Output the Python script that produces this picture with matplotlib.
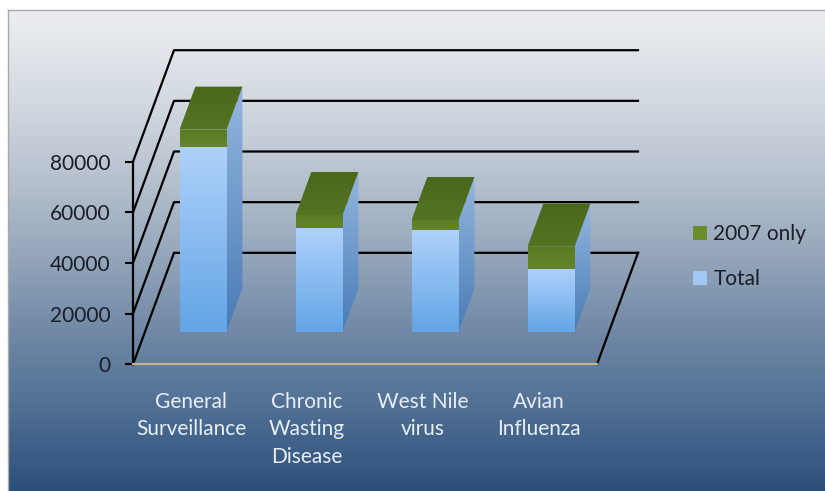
import numpy as np
import matplotlib

matplotlib.use("Agg")
import matplotlib.pyplot as plt
from matplotlib.patches import Polygon, Patch
from matplotlib.colors import LinearSegmentedColormap

plt.rcParams["font.family"] = ["Lato", "DejaVu Sans"]

# data
categories = ["General\nSurveillance", "Chronic\nWasting\nDisease", "West Nile\nvirus", "Avian\nInfluenza"]
total = [73000, 41000, 40000, 24500]
only_2007 = [6700, 5000, 4000, 9000]
y_ticks = [0, 20000, 40000, 60000, 80000]
series_labels = ["2007 only", "Total"]

W, H = 825, 491
fig = plt.figure(figsize=(W / 100, H / 100), dpi=100)

# background: white page with a grey-to-navy gradient panel
bg = fig.add_axes([0, 0, 1, 1])
bg.set_xlim(0, W)
bg.set_ylim(H, 0)
bg.axis("off")
bg_cmap = LinearSegmentedColormap.from_list(
    "bg", ["#eceef1", "#d6dce3", "#bac4d0", "#97a8bc", "#7189a6", "#4f6f93", "#2c4f7a"]
)
bg.imshow(np.linspace(0, 1, 256).reshape(-1, 1), cmap=bg_cmap, extent=(8, W, H, 10), aspect="auto")
bg.plot([8, W], [10, 10], color="#a9a9a9", lw=1)
bg.plot([8, 8], [10, H], color="#a9a9a9", lw=1)
bg.set_xlim(0, W)
bg.set_ylim(H, 0)

# main axes spans the figure, front plane of the 3d box mapped by limits
px_per_cat = 116.0
x0_px, y0_px = 133.0, 364.3
val_per_px = 80000 / 202.6
ax = fig.add_axes([0, 0, 1, 1])
ax.patch.set_alpha(0)
xlim = (-0.5 - x0_px / px_per_cat, -0.5 + (W - x0_px) / px_per_cat)
ylim = (-(H - y0_px) * val_per_px, y0_px * val_per_px)
ax.set_xlim(*xlim)
ax.set_ylim(*ylim)
ax.set_autoscale_on(False)

DX = 41 / px_per_cat  # depth offset of the back wall
DY = 111.5 * val_per_px
t_front, t_back = 0.294, 0.68
half_w = 0.203


def at(x, y, t):
    return (x + t * DX, y + t * DY)


def grad_fill(verts, c_top, c_bot, z):
    poly = Polygon(verts, closed=True, fc="none", ec="none", transform=ax.transData)
    xs, ys = zip(*verts)
    cmap = LinearSegmentedColormap.from_list("", [c_bot, c_top])
    im = ax.imshow(
        np.linspace(0, 1, 64).reshape(-1, 1),
        cmap=cmap,
        extent=(min(xs), max(xs), min(ys), max(ys)),
        origin="lower",
        aspect="auto",
        interpolation="bilinear",
        zorder=z,
    )
    im.set_clip_path(poly)


# walls
x_left, x_right = -0.5, len(categories) - 0.5
for v in y_ticks:
    ax.plot(
        [x_left, x_left + DX, x_right + DX], [v, v + DY, v + DY],
        color="black", lw=1.6, zorder=2, clip_on=False,
    )
ax.plot([x_right, x_right + DX], [0, DY], color="black", lw=1.6, zorder=2)

# bars
for i in range(len(categories)):
    xl, xr = i - half_w, i + half_w
    top = total[i] + only_2007[i]
    side = [at(xr, 0, t_front), at(xr, 0, t_back), at(xr, top, t_back), at(xr, top, t_front)]
    grad_fill(side, "#93b6df", "#4a7cb6", 3)
    top_face = [at(xl, top, t_front), at(xr, top, t_front), at(xr, top, t_back), at(xl, top, t_back)]
    grad_fill(top_face, "#4a671c", "#547424", 3)
    front_blue = [at(xl, 0, t_front), at(xr, 0, t_front), at(xr, total[i], t_front), at(xl, total[i], t_front)]
    grad_fill(front_blue, "#aed1fa", "#63a5e6", 4)
    front_green = [at(xl, total[i], t_front), at(xr, total[i], t_front), at(xr, top, t_front), at(xl, top, t_front)]
    grad_fill(front_green, "#5a7a24", "#64852c", 4)

# axes, spines, ticks
for s in ["top", "right"]:
    ax.spines[s].set_visible(False)
ax.spines["left"].set_position(("data", x_left))
ax.spines["left"].set_bounds(0, 80000)
ax.spines["left"].set_linewidth(1.6)
ax.spines["bottom"].set_position(("data", 0))
ax.spines["bottom"].set_bounds(x_left, x_right)
ax.spines["bottom"].set_color("#c4b48c")
ax.spines["bottom"].set_linewidth(1.6)

fs = 15
ax.set_yticks(y_ticks)
ax.set_yticklabels([str(v) for v in y_ticks])
ax.tick_params(axis="y", direction="out", length=6, width=1.5, pad=10, labelsize=fs, labelcolor="#1b1d28")
ax.set_xticks(range(len(categories)))
ax.set_xticklabels(categories)
ax.tick_params(axis="x", length=0, pad=20, labelsize=fs, labelcolor="#e8eef6")
for lbl in ax.get_xticklabels():
    lbl.set_linespacing(1.46)

handles = [Patch(fc="#6b8b2c"), Patch(fc="#a0c8f2")]
leg = ax.legend(
    handles, series_labels,
    loc="upper left", bbox_to_anchor=(693 / W, 1 - 224 / H), bbox_transform=fig.transFigure,
    frameon=False, borderpad=0, borderaxespad=0,
    handlelength=0.68, handleheight=0.68, handletextpad=0.3, labelspacing=1.2,
    fontsize=fs, labelcolor="#1b1d28",
)

ax.set_xlim(*xlim)
ax.set_ylim(*ylim)

fig.savefig("out.png", dpi=100)
